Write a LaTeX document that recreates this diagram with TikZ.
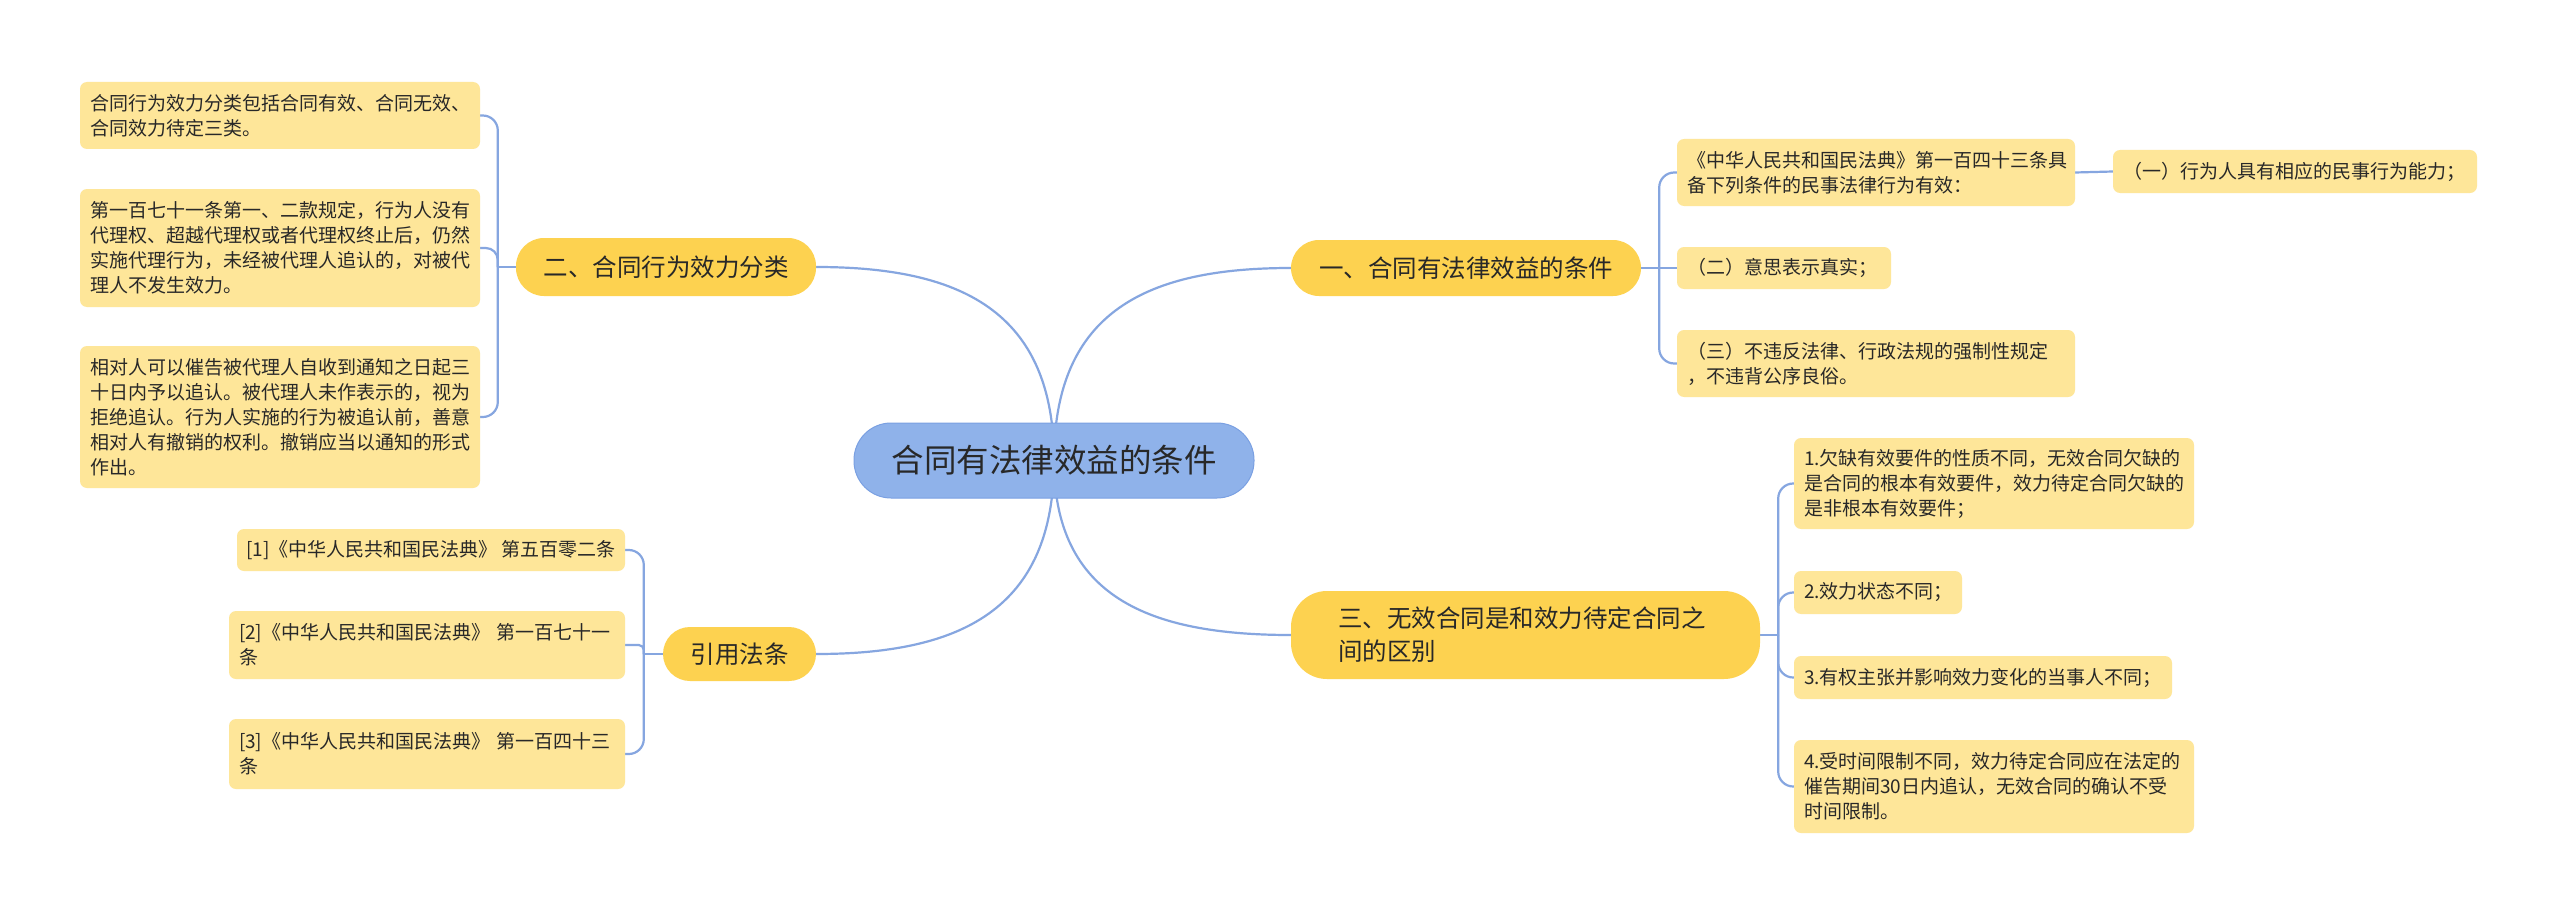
\documentclass[tikz,border=0pt]{standalone}
\usepackage{fontspec}
\setmainfont{Noto Sans CJK SC}
\usetikzlibrary{backgrounds}
\definecolor{rootc}{RGB}{143,178,234}
\definecolor{rootd}{RGB}{122,160,226}
\definecolor{brc}{RGB}{253,210,80}
\definecolor{leafc}{RGB}{254,230,153}
\definecolor{linec}{RGB}{134,166,224}
\definecolor{txtc}{RGB}{40,40,40}
\tikzset{
  leaf/.style={fill=leafc, rounded corners=7pt, inner xsep=10pt, inner ysep=0pt, align=left, text=txtc, font=\fontsize{19}{25}\selectfont},
  branch/.style={fill=brc, rounded corners=28pt, inner sep=0pt, text=txtc, font=\fontsize{24.5}{33}\selectfont},
  rootnode/.style={fill=rootc, draw=rootd, line width=1pt, rounded corners=37pt, inner sep=0pt, text=txtc, font=\fontsize{32.5}{40}\selectfont},
  conn/.style={draw=linec, line width=2.2pt},
}
\begin{document}
\begin{tikzpicture}[x=1pt,y=-1pt]
\useasboundingbox (0,0) rectangle (2560,915);

% root and branches
\node[rootnode, minimum width=400pt, minimum height=75pt] (root) at (1054,460.5) {合同有法律效益的条件};
\node[branch, minimum width=350pt, minimum height=56pt] (b1) at (1466,268) {一、合同有法律效益的条件};
\node[branch, minimum width=300pt, minimum height=58pt] (b2) at (666,267) {二、合同行为效力分类};
\node[branch, rounded corners=36pt, text width=375pt, inner xsep=47pt, minimum height=88pt, align=left] (b3) at (1525.5,635) {三、无效合同是和效力待定合同之\\间的区别};
\node[branch, rounded corners=27pt, minimum width=153pt, minimum height=54pt] (b4) at (739.5,654) {引用法条};

% leaves of b2
\node[leaf, text width=380pt, minimum height=67pt] (l1) at (280,115.5) {合同行为效力分类包括合同有效、合同无效、\\合同效力待定三类。};
\node[leaf, text width=380pt, minimum height=118pt] (l2) at (280,248) {第一百七十一条第一、二款规定，行为人没有\\代理权、超越代理权或者代理权终止后，仍然\\实施代理行为，未经被代理人追认的，对被代\\理人不发生效力。};
\node[leaf, text width=380pt, minimum height=142pt] (l3) at (280,417) {相对人可以催告被代理人自收到通知之日起三\\十日内予以追认。被代理人未作表示的，视为\\拒绝追认。行为人实施的行为被追认前，善意\\相对人有撤销的权利。撤销应当以通知的形式\\作出。};

% leaves of b4
\node[leaf, inner xsep=6pt, minimum width=388pt, minimum height=42pt] (r1) at (431,550) {[1]《中华人民共和国民法典》 第五百零二条};
\node[leaf, text width=376pt, minimum height=68pt] (r2) at (427,645) {[2]《中华人民共和国民法典》 第一百七十一\\条};
\node[leaf, text width=376pt, minimum height=70pt] (r3) at (427,754) {[3]《中华人民共和国民法典》 第一百四十三\\条};

% leaves of b1
\node[leaf, text width=378pt, minimum height=67pt] (a1) at (1876,172.5) {《中华人民共和国民法典》第一百四十三条具\\备下列条件的民事法律行为有效：};
\node[leaf, text width=344pt, minimum height=43pt] (a1c) at (2295,171.5) {（一）行为人具有相应的民事行为能力；};
\node[leaf, text width=194pt, minimum height=42pt] (a2) at (1784,268) {（二）意思表示真实；};
\node[leaf, text width=378pt, minimum height=67pt] (a3) at (1876,363.5) {（三）不违反法律、行政法规的强制性规定\\，不违背公序良俗。};

% leaves of b3
\node[leaf, text width=380pt, minimum height=91pt] (c1) at (1994,483.5) {1.欠缺有效要件的性质不同，无效合同欠缺的\\是合同的根本有效要件，效力待定合同欠缺的\\是非根本有效要件；};
\node[leaf, text width=148pt, minimum height=43pt] (c2) at (1878,592.5) {2.效力状态不同；};
\node[leaf, text width=358pt, minimum height=43pt] (c3) at (1983,677.5) {3.有权主张并影响效力变化的当事人不同；};
\node[leaf, text width=380pt, minimum height=93pt] (c4) at (1994,786.5) {4.受时间限制不同，效力待定合同应在法定的\\催告期间30日内追认，无效合同的确认不受\\时间限制。};

% trunk points
\coordinate (t1) at ([xshift=18pt]b1.east);
\coordinate (t2) at ([xshift=-18pt]b2.west);
\coordinate (t3) at ([xshift=18pt]b3.east);
\coordinate (t4) at ([xshift=-19pt]b4.west);

\begin{pgfonlayer}{background}
\fill[white] (0,0) rectangle (2560,915);
% root to branches
\draw[conn] (root.center) .. controls (1054,310) and (959,267) .. (b2.east);
\draw[conn] (root.center) .. controls (1054,310) and (1149,268) .. (b1.west);
\draw[conn] (root.center) .. controls (1054,611) and (959,654) .. (b4.east);
\draw[conn] (root.center) .. controls (1054,597) and (1149,635) .. (b3.west);

% b2 group
\draw[conn] (b2.west) -- (t2);
\draw[conn, rounded corners=15pt] (t2) |- (l1.east);
\draw[conn, rounded corners=12pt] (t2) |- (l2.east);
\draw[conn, rounded corners=15pt] (t2) |- (l3.east);

% b4 group
\draw[conn] (b4.west) -- (t4);
\draw[conn, rounded corners=15pt] (t4) |- (r1.east);
\draw[conn, rounded corners=5pt] (t4) |- (r2.east);
\draw[conn, rounded corners=15pt] (t4) |- (r3.east);

% b1 group
\draw[conn] (b1.east) -- (t1);
\draw[conn, rounded corners=15pt] (t1) |- (a1.west);
\draw[conn] (t1) -- (a2.west);
\draw[conn, rounded corners=15pt] (t1) |- (a3.west);
\draw[conn] (a1.east) -- (a1c.west);

% b3 group
\draw[conn] (b3.east) -- (t3);
\draw[conn, rounded corners=15pt] (t3) |- (c1.west);
\draw[conn, rounded corners=15pt] (t3) |- (c2.west);
\draw[conn, rounded corners=15pt] (t3) |- (c3.west);
\draw[conn, rounded corners=15pt] (t3) |- (c4.west);
\end{pgfonlayer}
\end{tikzpicture}
\end{document}
